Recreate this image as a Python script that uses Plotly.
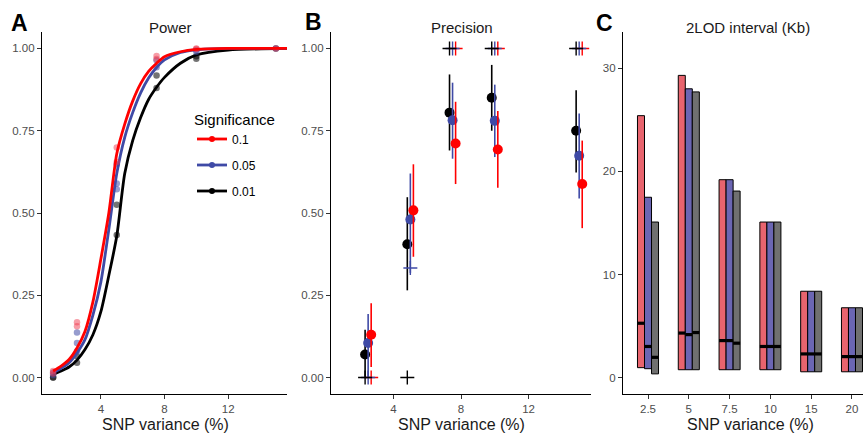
import plotly.graph_objects as go

W, H = 863, 435

# ---------------- Panel A : Power ----------------
sig_levels = ["0.1", "0.05", "0.01"]
curve_x = [1, 1.5, 2, 2.5, 3, 3.5, 4, 4.5, 5, 5.5, 6, 6.5, 7, 7.5, 8, 9, 10, 12, 15.7]
curve_red = [0.02, 0.035, 0.055, 0.09, 0.14, 0.23, 0.36, 0.50, 0.68, 0.77, 0.84, 0.893, 0.93, 0.955, 0.975, 0.99, 0.997, 1.0, 1.0]
curve_blue = [0.015, 0.028, 0.045, 0.075, 0.115, 0.19, 0.29, 0.45, 0.62, 0.73, 0.805, 0.865, 0.91, 0.942, 0.965, 0.988, 0.996, 1.0, 1.0]
curve_black = [0.01, 0.02, 0.032, 0.053, 0.085, 0.13, 0.20, 0.31, 0.43, 0.62, 0.72, 0.79, 0.845, 0.882, 0.912, 0.955, 0.98, 0.995, 1.0]

pts_red_x = [1, 1, 2.5, 2.5, 5, 5, 7.5, 7.5, 10, 10, 15]
pts_red_y = [0.02, 0.012, 0.168, 0.156, 0.699, 0.655, 0.977, 0.968, 1.0, 0.998, 1.0]
pts_blue_x = [1, 1, 2.5, 2.5, 2.5, 5, 5, 5, 7.5, 7.5, 10, 10, 15]
pts_blue_y = [0.015, 0.008, 0.137, 0.105, 0.08, 0.648, 0.59, 0.572, 0.964, 0.943, 0.995, 0.99, 1.0]
pts_black_x = [1, 1, 2.5, 2.5, 5, 5, 7.5, 7.5, 10, 10, 15]
pts_black_y = [0.0, 0.0, 0.065, 0.045, 0.525, 0.433, 0.918, 0.88, 0.976, 0.969, 1.0]

# ---------------- Panel B : Precision ----------------
snp_B = [2.5, 5, 7.5, 10, 15]
prec_black = [0.07, 0.405, 0.805, 0.85, 0.75]
prec_black_lo = [0.0, 0.265, 0.69, 0.75, 0.623]
prec_black_hi = [0.145, 0.548, 0.921, 0.95, 0.873]
prec_blue = [0.105, 0.48, 0.782, 0.78, 0.674]
prec_blue_lo = [0.0, 0.318, 0.665, 0.67, 0.544]
prec_blue_hi = [0.193, 0.62, 0.896, 0.89, 0.802]
prec_red = [0.13, 0.508, 0.711, 0.693, 0.588]
prec_red_lo = [0.032, 0.367, 0.588, 0.577, 0.454]
prec_red_hi = [0.226, 0.648, 0.838, 0.81, 0.72]
plus_black = [0.0, 0.0, 1.0, 1.0, 1.0]
plus_blue = [0.0, 0.333, 1.0, 1.0, 1.0]
plus_red = [0.0, None, 1.0, 1.0, 1.0]

# ---------------- Panel C : 2LOD interval ----------------
snp_C = ["2.5", "5", "7.5", "10", "15", "20"]
lod_red_max = [25.4, 29.3, 19.2, 15.1, 8.4, 6.8]
lod_red_min = [1.0, 0.8, 0.8, 0.8, 0.6, 0.6]
lod_red_med = [5.3, 4.35, 3.62, 3.05, 2.33, 2.07]
lod_blue_max = [17.5, 28.0, 19.2, 15.1, 8.4, 6.8]
lod_blue_min = [0.9, 0.8, 0.8, 0.8, 0.6, 0.6]
lod_blue_med = [3.05, 4.2, 3.62, 3.05, 2.33, 2.07]
lod_gray_max = [15.1, 27.7, 18.1, 15.1, 8.4, 6.8]
lod_gray_min = [0.4, 0.8, 0.8, 0.8, 0.6, 0.6]
lod_gray_med = [2.0, 4.4, 3.37, 3.05, 2.33, 2.07]

RED, BLUE, BLACK = "#FF0000", "#3F4AA6", "#000000"
C_RED, C_BLUE, C_GRAY = "#E8646E", "#6B66B3", "#707070"
FONT = "Liberation Sans, Arial, sans-serif"

fig = go.Figure()

# Panel A curves + points
for cx, cy, px, py, col, pcol in [
    (curve_x, curve_black, pts_black_x, pts_black_y, BLACK, "rgba(0,0,0,0.55)"),
    (curve_x, curve_blue, pts_blue_x, pts_blue_y, BLUE, "rgba(63,74,166,0.55)"),
    (curve_x, curve_red, pts_red_x, pts_red_y, RED, "rgba(240,60,80,0.5)"),
]:
    fig.add_trace(go.Scatter(x=px, y=py, mode="markers", marker=dict(size=6.5, color=pcol),
                             showlegend=False, xaxis="x", yaxis="y", hoverinfo="skip"))
    fig.add_trace(go.Scatter(x=cx, y=cy, mode="lines", line=dict(color=col, width=2.8, shape="spline", smoothing=0.7),
                             showlegend=False, xaxis="x", yaxis="y"))

# legend entries
for i, (lab, col) in enumerate(zip(sig_levels, [RED, BLUE, BLACK])):
    fig.add_trace(go.Scatter(x=[None], y=[None], mode="lines+markers", name=lab,
                             line=dict(color=col, width=2.8), marker=dict(color=col, size=6),
                             legendgroup=lab, legendrank=i + 1, xaxis="x", yaxis="y"))

# Panel B
offs = {"black": -0.18, "blue": 0.0, "red": 0.18}
for key, col, yv, lo, hi in [
    ("black", BLACK, prec_black, prec_black_lo, prec_black_hi),
    ("blue", BLUE, prec_blue, prec_blue_lo, prec_blue_hi),
    ("red", RED, prec_red, prec_red_lo, prec_red_hi),
]:
    xs = [v + offs[key] for v in snp_B]
    fig.add_trace(go.Scatter(
        x=xs, y=yv, mode="markers", marker=dict(size=10, color=col),
        error_y=dict(type="data", symmetric=False,
                     array=[h - v for h, v in zip(hi, yv)],
                     arrayminus=[v - l for v, l in zip(yv, lo)],
                     width=0, thickness=1.6, color=col),
        showlegend=False, xaxis="x2", yaxis="y2"))
for key, col, pl in [("red", RED, plus_red), ("blue", BLUE, plus_blue), ("black", BLACK, plus_black)]:
    xs = [v + offs[key] for v in snp_B]
    fig.add_trace(go.Scatter(x=xs, y=pl, mode="markers",
                             marker=dict(symbol="cross-thin", size=10, line=dict(color=col, width=1.4)),
                             showlegend=False, xaxis="x2", yaxis="y2"))

# Panel C
bw = 0.172
for off, col, mx, mn, md in [
    (-bw, C_RED, lod_red_max, lod_red_min, lod_red_med),
    (0.0, C_BLUE, lod_blue_max, lod_blue_min, lod_blue_med),
    (bw, C_GRAY, lod_gray_max, lod_gray_min, lod_gray_med),
]:
    xs = [i + 1 + off for i in range(len(snp_C))]
    fig.add_trace(go.Bar(x=xs, y=[a - b for a, b in zip(mx, mn)], base=mn, width=bw,
                         marker=dict(color=col, line=dict(color="#000000", width=1)),
                         showlegend=False, xaxis="x3", yaxis="y3"))
    lx, ly = [], []
    for x, m in zip(xs, md):
        lx += [x - bw / 2, x + bw / 2, None]
        ly += [m, m, None]
    fig.add_trace(go.Scatter(x=lx, y=ly, mode="lines", line=dict(color="#000000", width=3.2),
                             showlegend=False, xaxis="x3", yaxis="y3"))

def px_x(p):
    return p / W

def px_y(p):
    return 1 - p / H

axis_common = dict(showline=True, linecolor="#000000", linewidth=1.3, ticks="outside", ticklen=4,
                   tickcolor="#333333", tickwidth=1, showgrid=False, zeroline=False,
                   tickfont=dict(family=FONT, size=11.5, color="#4D4D4D"))
ydom = [px_y(394), px_y(32)]

fig.update_layout(
    width=W, height=H, margin=dict(l=0, r=0, t=0, b=0),
    plot_bgcolor="white", paper_bgcolor="white", barmode="overlay",
    font=dict(family=FONT),
    xaxis=dict(domain=[px_x(42), px_x(287)], range=[0.3, 15.7], tickvals=[4, 8, 12], anchor="y", **axis_common),
    yaxis=dict(domain=ydom, range=[-0.05, 1.05], tickvals=[0, 0.25, 0.5, 0.75, 1.0],
               ticktext=["0.00", "0.25", "0.50", "0.75", "1.00"], anchor="x", **axis_common),
    xaxis2=dict(domain=[px_x(331), px_x(591)], range=[0.3, 15.7], tickvals=[4, 8, 12], anchor="y2", **axis_common),
    yaxis2=dict(domain=ydom, range=[-0.05, 1.05], tickvals=[0, 0.25, 0.5, 0.75, 1.0],
                ticktext=["0.00", "0.25", "0.50", "0.75", "1.00"], anchor="x2", **axis_common),
    xaxis3=dict(domain=[px_x(623), 1.0], range=[0.387, 6.27], tickvals=list(range(1, len(snp_C) + 1)),
                ticktext=snp_C, anchor="y3", **axis_common),
    yaxis3=dict(domain=ydom, range=[-1.55, 33.5], tickvals=[0, 10, 20, 30], anchor="x3", **axis_common),
    legend=dict(x=px_x(192), y=px_y(105), xanchor="left", yanchor="top", bgcolor="rgba(0,0,0,0)",
                font=dict(family=FONT, size=12, color="#000000"),
                title=dict(text="Significance", font=dict(family=FONT, size=15, color="#000000")),
                tracegroupgap=7, itemwidth=30),
)

ann = []
for txt, x, y in [("Power", 170, 27), ("Precision", 462, 27), ("2LOD interval (Kb)", 748, 27)]:
    ann.append(dict(text=txt, x=px_x(x), y=px_y(y), xref="paper", yref="paper", showarrow=False,
                    font=dict(family=FONT, size=15, color="#1A1A1A"), xanchor="center", yanchor="middle"))
for txt, x, y in [("A", 19, 23), ("B", 313, 22), ("C", 604, 23)]:
    ann.append(dict(text="<b>" + txt + "</b>", x=px_x(x), y=px_y(y), xref="paper", yref="paper", showarrow=False,
                    font=dict(family=FONT, size=23, color="#000000"), xanchor="center", yanchor="middle"))
for x in [165, 461, 750]:
    ann.append(dict(text="SNP variance (%)", x=px_x(x), y=px_y(424), xref="paper", yref="paper", showarrow=False,
                    font=dict(family=FONT, size=16, color="#1A1A1A"), xanchor="center", yanchor="middle"))
fig.update_layout(annotations=ann)

fig.write_html("out.html", config={"displayModeBar": False},
               post_script="document.body.style.margin='0px';document.body.style.overflow='hidden';")
